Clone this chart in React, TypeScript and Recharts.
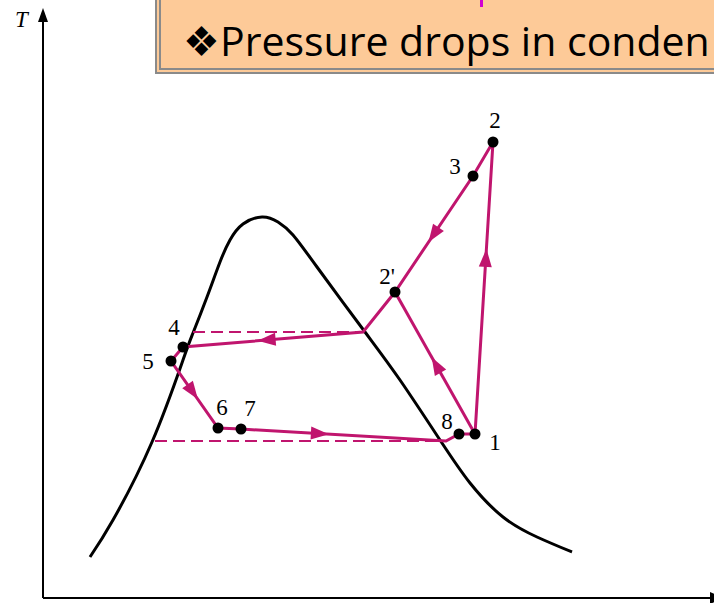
import React from 'react';
import { ComposedChart, Line, Scatter, XAxis, YAxis } from 'recharts';

// saturation dome (s, T in drawing units)
const domeS = [47, 70, 109, 140, 150, 164, 177, 187, 200, 219, 235, 250, 274, 322, 357, 397, 427, 460, 494, 529];
const domeT = [41, 78, 156, 238, 265, 301, 336, 358, 374, 381, 376, 363, 331, 266, 218, 158, 115, 81, 61, 46];

// numbered states of the cycle
const stateNames = ['1', '2', '3', "2'", '4', '5', '6', '7', '8'];
const stateS = [432, 450, 430, 352, 140, 128, 175, 198, 416];
const stateT = [164, 456, 422, 306, 251, 237, 170, 169, 164];

// unlabelled bends of the process lines
const bendNames = ['c', 'j'];
const bendS = [320, 403];
const bendT = [266, 157];

const cyclePath = ['2', '3', "2'", 'c', '4', '5', '6', '7', 'j', '8', '1', '2'];
const idealCompression = ['1', "2'"];

// constant-pressure (saturation) dashed lines
const dashUpperS = [150, 320];
const dashUpperT = [266, 266];
const dashLowerS = [112, 403];
const dashLowerT = [157, 157];

// direction arrows: from, to, fraction along
const arrowFrom = ['c', '5', '7', '1', '1', '3'];
const arrowTo = ['4', '6', 'j', '2', "2'", "2'"];
const arrowAt = [0.53, 0.45, 0.38, 0.6, 0.48, 0.5];

// axes: s from 0 to 671, T from 0 to 590
const sAxisS = [0, 671];
const sAxisT = [0, 0];
const tAxisS = [0, 0];
const tAxisT = [0, 585];

const PINK = '#c0156e';

const lookup: Record<string, { s: number; T: number }> = {};
stateNames.forEach((n, i) => (lookup[n] = { s: stateS[i], T: stateT[i] }));
bendNames.forEach((n, i) => (lookup[n] = { s: bendS[i], T: bendT[i] }));

const domeData = domeS.map((s, i) => ({ s, T: domeT[i] }));
const cycleData = cyclePath.map((n) => lookup[n]);
const idealData = idealCompression.map((n) => lookup[n]);
const stateData = stateNames.map((name, i) => ({ name, s: stateS[i], T: stateT[i] }));
const upperData = dashUpperS.map((s, i) => ({ s, T: dashUpperT[i] }));
const lowerData = dashLowerS.map((s, i) => ({ s, T: dashLowerT[i] }));
const sAxisData = sAxisS.map((s, i) => ({ s, T: sAxisT[i] }));
const tAxisData = tAxisS.map((s, i) => ({ s, T: tAxisT[i] }));
const arrowData = arrowFrom.map((f, i) => {
  const a = lookup[f];
  const b = lookup[arrowTo[i]];
  const t = arrowAt[i];
  return {
    s: a.s + (b.s - a.s) * t,
    T: a.T + (b.T - a.T) * t,
    angle: (Math.atan2(-(b.T - a.T), b.s - a.s) * 180) / Math.PI,
  };
});

const labelOffset: Record<string, [number, number]> = {
  '1': [20, 16],
  '2': [2, -14],
  '3': [-18, -2],
  "2'": [-8, -8],
  '4': [-9, -12],
  '5': [-23, 8],
  '6': [4, -13],
  '7': [9, -13],
  '8': [-12, -5],
};

const StateDot = (props: any) => {
  const { cx, cy, payload } = props;
  const [dx, dy] = labelOffset[payload.name];
  return (
    <g>
      <circle cx={cx} cy={cy} r={5.5} fill="#000" />
      <text
        x={cx + dx}
        y={cy + dy}
        textAnchor="middle"
        fontFamily="'Liberation Serif', serif"
        fontSize={23}
        fill="#000"
      >
        {payload.name}
      </text>
    </g>
  );
};

const ArrowHead = (props: any) => {
  const { cx, cy, payload } = props;
  return (
    <path
      d="M10,0 L-8,-6.5 L-8,6.5 Z"
      fill={PINK}
      transform={`translate(${cx},${cy}) rotate(${payload.angle})`}
    />
  );
};

const AxisArrow = (props: any) => {
  const { cx, cy, payload } = props;
  if (payload.dir === 'up') {
    return <path d={`M${cx},${cy} L${cx - 5},${cy + 14} L${cx + 5},${cy + 14} Z`} fill="#000" />;
  }
  return <path d={`M${cx - 4},${cy - 6} L${cx + 10},${cy} L${cx - 4},${cy + 6} Z`} fill="#000" />;
};

const axisEnds = [
  { s: 0, T: 590, dir: 'up' },
  { s: 671, T: 0, dir: 'right' },
];

export default function App() {
  return (
    <div style={{ position: 'absolute', left: 0, top: 0, width: 714, height: 603, overflow: 'hidden', background: '#fff' }}>
      <ComposedChart width={714} height={603} margin={{ top: 8, right: 0, bottom: 5, left: 43 }}>
        <XAxis type="number" dataKey="s" domain={[0, 671]} scale="linear" hide />
        <YAxis type="number" dataKey="T" domain={[0, 590]} scale="linear" hide />
        <Line data={sAxisData} dataKey="T" type="linear" stroke="#000" strokeWidth={2} dot={false} activeDot={false} isAnimationActive={false} />
        <Line data={tAxisData} dataKey="T" type="linear" stroke="#000" strokeWidth={2} dot={false} activeDot={false} isAnimationActive={false} />
        <Line data={domeData} dataKey="T" type="natural" stroke="#000" strokeWidth={3} dot={false} activeDot={false} isAnimationActive={false} />
        <Line data={upperData} dataKey="T" type="linear" stroke={PINK} strokeWidth={1.8} strokeDasharray="12 6" dot={false} activeDot={false} isAnimationActive={false} />
        <Line data={lowerData} dataKey="T" type="linear" stroke={PINK} strokeWidth={1.8} strokeDasharray="12 6" dot={false} activeDot={false} isAnimationActive={false} />
        <Line data={cycleData} dataKey="T" type="linear" stroke={PINK} strokeWidth={3} dot={false} activeDot={false} isAnimationActive={false} />
        <Line data={idealData} dataKey="T" type="linear" stroke={PINK} strokeWidth={3} dot={false} activeDot={false} isAnimationActive={false} />
        <Scatter data={arrowData} dataKey="T" shape={ArrowHead} isAnimationActive={false} />
        <Scatter data={stateData} dataKey="T" shape={StateDot} isAnimationActive={false} />
        <Scatter data={axisEnds} dataKey="T" shape={AxisArrow} isAnimationActive={false} />
      </ComposedChart>
      <div
        style={{
          position: 'absolute',
          left: 15,
          top: 8,
          fontFamily: "'Liberation Serif', serif",
          fontStyle: 'italic',
          fontSize: 23,
          lineHeight: '23px',
        }}
      >
        T
      </div>
      <div
        style={{
          position: 'absolute',
          left: 155,
          top: -20,
          width: 600,
          height: 82,
          background: '#fdca98',
          border: '6px double #8a8a8a',
        }}
      >
        <div style={{ position: 'absolute', left: 319, top: 14, width: 3, height: 7, background: '#d200d2' }} />
        <div
          style={{
            position: 'absolute',
            left: 22,
            top: 32,
            fontFamily: "'Open Sans', sans-serif",
            fontSize: 41,
            lineHeight: '44px',
            whiteSpace: 'nowrap',
            color: '#000',
          }}
        >
          ❖Pressure drops in conden
        </div>
      </div>
    </div>
  );
}
